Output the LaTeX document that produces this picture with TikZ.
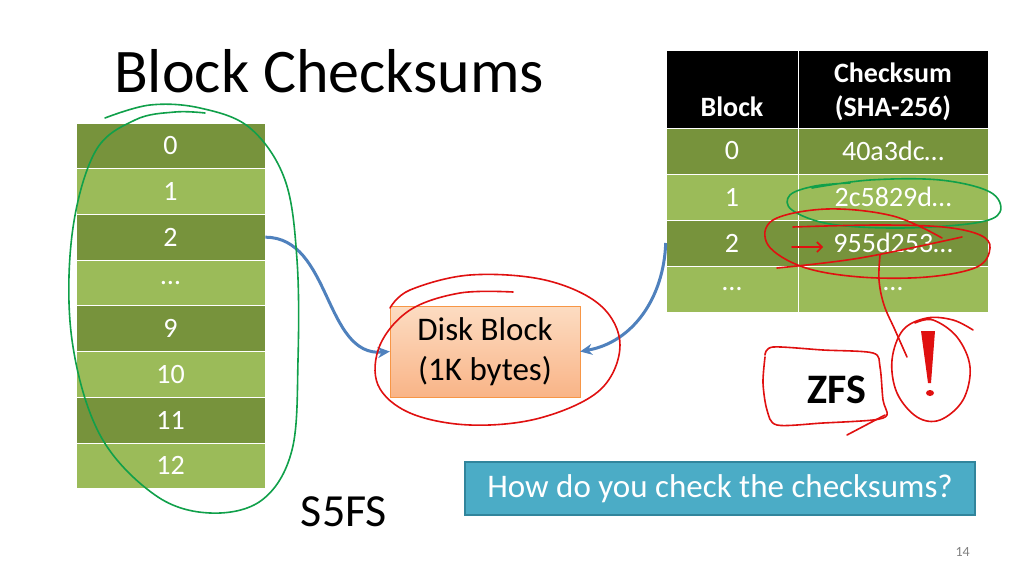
\documentclass[tikz,border=0pt]{standalone}
\usepackage{fontspec}
\setmainfont{Carlito}
\usetikzlibrary{
    arrows.meta,
    positioning
}
\definecolor{rowDark}{HTML}{77933C}
\definecolor{rowLight}{HTML}{9BBB59}
\definecolor{diskTop}{HTML}{FCDCC2}
\definecolor{diskBottom}{HTML}{F9B487}
\definecolor{diskBorder}{HTML}{F79646}
\definecolor{linkBlue}{HTML}{4F81BD}
\definecolor{askFill}{HTML}{4BACC6}
\definecolor{askBorder}{HTML}{31859C}
\definecolor{penRed}{HTML}{E01010}
\definecolor{penGreen}{HTML}{10A04A}
\newcommand{\fsz}[1]{%
    \fontsize{#1}{#1}\selectfont%
}

\begin{document}
\begin{tikzpicture}[
    x=1pt,
    y=-1pt,
    cell/.style={
        rectangle,
        draw=white,
        line width=0.6pt,
        text=white,
        inner sep=0pt,
        minimum height=45.7pt,
        font=\fsz{28}
    },
    darkcell/.style={
        cell,
        fill=rowDark
    },
    lightcell/.style={
        cell,
        fill=rowLight
    },
    headcell/.style={
        rectangle,
        fill=black,
        draw=white,
        line width=0.6pt,
        inner sep=0pt,
        minimum height=78pt
    },
    headtext/.style={
        text=white,
        align=center,
        inner sep=0pt,
        font=\bfseries\fsz{28},
        anchor=base
    },
    diskbox/.style={
        rectangle,
        draw=diskBorder,
        top color=diskTop,
        bottom color=diskBottom,
        align=center,
        minimum width=190pt,
        minimum height=91pt,
        font=\fontsize{33}{40}\selectfont
    },
    askbox/.style={
        rectangle,
        fill=askFill,
        draw=askBorder,
        line width=1.5pt,
        text=white,
        minimum width=510pt,
        minimum height=53pt,
        font=\fsz{33}
    },
    arrow/.style={
        -{Stealth[length=12pt,width=11pt]},
        linkBlue,
        line width=3pt
    },
    redpen/.style={
        penRed,
        line width=1.6pt,
        line cap=round,
        line join=round
    },
    greenpen/.style={
        penGreen,
        line width=1.6pt,
        line cap=round,
        line join=round
    }
]

\fill[white] (0,0) rectangle (1024,576);
\useasboundingbox (0,0) rectangle (1024,576);

% title

\node[
    anchor=base west,
    inner sep=0pt,
    font=\fsz{62}
] (title) at (114,92) {Block Checksums};

% S5FS block list

\node[darkcell, minimum width=189pt] (r0) at (170.5,145.8) {0};
\node[lightcell, minimum width=189pt] (r1) at (170.5,191.5) {1};
\node[darkcell, minimum width=189pt] (r2) at (170.5,237.2) {2};
\node[lightcell, minimum width=189pt] (rdots) at (170.5,282.9) {\dots};
\node[darkcell, minimum width=189pt] (r9) at (170.5,328.6) {9};
\node[lightcell, minimum width=189pt] (r10) at (170.5,374.3) {10};
\node[darkcell, minimum width=189pt] (r11) at (170.5,420.0) {11};
\node[lightcell, minimum width=189pt] (r12) at (170.5,465.7) {12};

\node[font=\fsz{46}, inner sep=0pt] (sfive) at (344,512) {S5FS};

% disk block

\node[diskbox] (disk) at (485,351.5) {
    Disk Block\\
    (1K bytes)
};

% ZFS checksum table

\node[headcell, minimum width=132pt] (hblock) at (732,89) {};
\node[headcell, minimum width=190pt] (hsum) at (893,89) {};
\node[headtext] (hblocktext) at (732,116) {Block};
\node[headtext] (hsumtext) at (893,116) {Checksum\\[6pt](SHA-256)};

\node[darkcell, minimum width=132pt] (b0) at (732,151) {0};
\node[darkcell, minimum width=190pt] (s0) at (893,151) {40a3dc\dots};
\node[lightcell, minimum width=132pt] (b1) at (732,197) {1};
\node[lightcell, minimum width=190pt] (s1) at (893,197) {2c5829d\dots};
\node[darkcell, minimum width=132pt] (b2) at (732,243) {2};
\node[darkcell, minimum width=190pt] (s2) at (893,243) {955d253\dots};
\node[lightcell, minimum width=132pt] (bdots) at (732,289) {\dots};
\node[lightcell, minimum width=190pt] (sdots) at (893,289) {\dots};

\node[font=\bfseries\fsz{42}, inner sep=0pt] (zfs) at (837,390) {ZFS};

% question and page number

\node[askbox] (ask) at (720,488.5) {How do you check the checksums?};

\node[
    anchor=base east,
    inner sep=0pt,
    text=gray,
    font=\fsz{14}
] (pagenum) at (970,556) {14};

% links to the disk block

\draw[arrow]
    (r2.east)
    to[out=0, in=185]
    (disk.west);

\draw[arrow]
    (b2.west)
    to[out=-92, in=10]
    (disk.east);

% green pen

\draw[greenpen]
    plot[smooth, tension=0.6] coordinates {
        (105,118) (150,105) (200,108) (250,128) (285,180)
        (297,260) (298,360) (292,450) (262,500) (210,513)
        (155,495) (100,435) (72,340) (72,235) (95,152)
        (135,120) (175,112) (205,113)
    };

\draw[greenpen]
    plot[smooth, tension=0.6] coordinates {
        (812,188) (870,180) (940,180) (990,192) (1000,212)
        (975,223) (900,228) (830,224) (792,210) (790,195)
        (815,186) (850,183)
    };

% red pen

\draw[redpen]
    plot[smooth, tension=0.6] coordinates {
        (513,292) (460,293) (410,310) (380,345) (378,385)
        (410,413) (470,425) (540,418) (600,390) (620,345)
        (600,305) (545,280) (470,275) (410,290) (390,308)
    };

\draw[redpen]
    plot[smooth, tension=0.6] coordinates {
        (942,238) (893,216) (827,209) (773,220) (768,245)
        (803,267) (860,277) (927,277) (977,267) (990,248)
        (980,235) (943,227) (877,225) (793,227)
    };

\draw[redpen]
    plot[smooth, tension=0.6] coordinates {
        (777,268) (860,258) (962,237)
    };

\draw[redpen, -{Straight Barb[length=5pt]}]
    (792,247) -- (823,247);

\draw[redpen]
    plot[smooth, tension=0.6] coordinates {
        (880,255) (879,280) (884,305) (895,330) (907,357)
    };

\draw[redpen]
    plot[smooth, tension=0.5] coordinates {
        (765,355) (773,347) (823,350) (873,353) (880,367)
        (883,400) (887,415) (873,420) (823,423) (777,425)
        (767,410) (763,383) (765,357)
    };

\draw[redpen]
    (847,435) -- (885,415);

\draw[redpen]
    plot[smooth, tension=0.6] coordinates {
        (973,330) (953,320) (927,318) (903,330) (892,360)
        (897,393) (917,417) (940,420) (963,400) (970,367)
        (957,337) (933,320) (915,323)
    };

\fill[penRed]
    (921,331) -- (935,331) -- (931,383) -- (928,383) -- cycle;

\fill[penRed]
    (930,393) ellipse[x radius=4, y radius=3];

\end{tikzpicture}
\end{document}
